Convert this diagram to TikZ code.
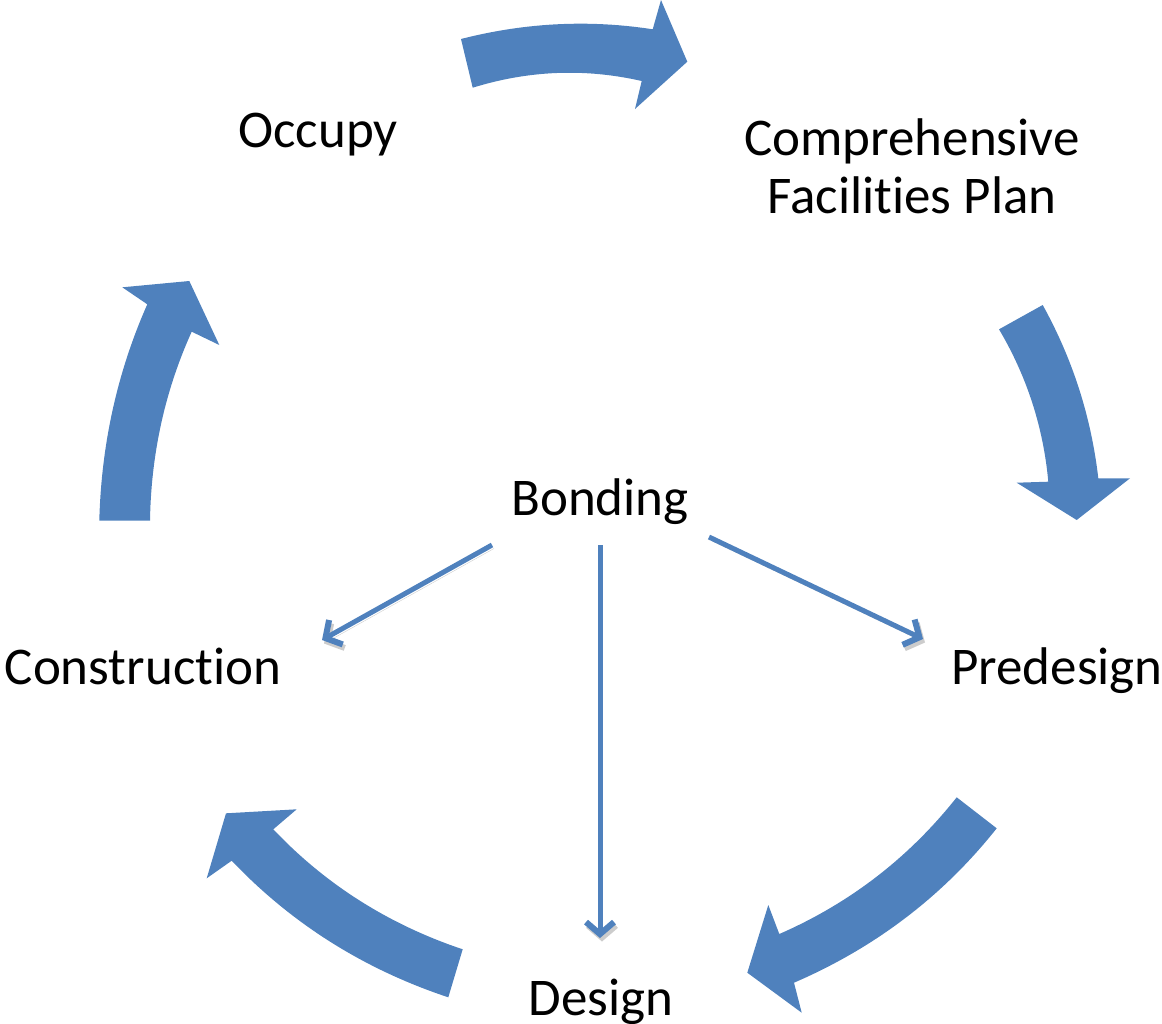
\documentclass[tikz,border=0pt]{standalone}
\usepackage{fontspec}
\setmainfont{Carlito}[Ligatures=CommonOff]
\usetikzlibrary{arrows.meta}
\definecolor{ablue}{HTML}{4F81BD}
\begin{document}
\begin{tikzpicture}[x=1pt,y=-1pt,
  lbl/.style={font=\fontsize{53}{58}\selectfont, inner sep=0pt, anchor=base},
  block/.style={fill=ablue, draw=none},
  thinarrow/.style={draw=ablue, line width=5pt,
    -{Straight Barb[length=12pt,width=28pt,line width=6pt]},
    preaction={draw=black!20, transform canvas={xshift=2pt,yshift=-3.5pt}}}
]
\useasboundingbox (0,0) rectangle (1162,1023);

% labels
\node[lbl] (occupy) at (318,147) {Occupy};
\node[lbl, align=center] (cfp) at (912,213) {Comprehensive\\Facilities Plan};
\node[lbl] (bonding) at (600,515) {Bonding};
\node[lbl] (construction) at (143,684) {Construction};
\node[lbl] (predesign) at (1057,684) {Predesign};
\node[lbl] (design) at (601,1015) {Design};

% cycle block arrows
\fill[block] (461,39) .. controls (525.1,22.6) and (589.0,19.4) .. (652.7,29.3)
  -- (661,0) -- (687.3,61.7) -- (635,109) -- (641.7,81)
  .. controls (585.1,68.1) and (528.8,70.3) .. (472.7,87.7) -- cycle;
\fill[block] (999,329.3) -- (1042.7,305)
  .. controls (1072.7,359.2) and (1091.2,416.9) .. (1098.3,478.3)
  -- (1130,478.3) -- (1076.7,520) -- (1016.7,482.7) -- (1048.3,481.7)
  .. controls (1043.3,427.2) and (1026.9,376.4) .. (999,329.3) -- cycle;
\fill[block] (996.7,828.3) -- (956.7,797.3)
  .. controls (908.9,857.7) and (849.8,903.2) .. (779.3,934)
  -- (768.3,905) -- (747.3,972.7) -- (801.7,1012.7) -- (794,982.7)
  .. controls (875.5,947.5) and (943,896) .. (996.7,828.3) -- cycle;
\fill[block] (448.3,997.3) -- (462.7,949.3)
  .. controls (388.7,924.5) and (325.6,884.5) .. (273.3,829.3)
  -- (296.7,809.3) -- (226,813.3) -- (206.7,878.3) -- (231.7,860.7)
  .. controls (291.6,923.7) and (363.8,969.2) .. (448.3,997.3) -- cycle;
\fill[block] (99.3,520.7) -- (150,520.7)
  .. controls (151.1,453.7) and (165,390.7) .. (191.7,331.7)
  -- (219.3,345) -- (189.3,281) -- (122.3,287.3) -- (147.3,304.3)
  .. controls (117.3,372) and (101.3,444.2) .. (99.3,520.7) -- cycle;

% bonding connectors
\coordinate (bL) at (492,545);
\coordinate (cE) at (322,640);
\coordinate (bM) at (600,545);
\coordinate (dE) at (600,938);
\coordinate (bR) at (709,537);
\coordinate (pE) at (923,639);
\draw[thinarrow] (bL) -- (cE);
\draw[thinarrow] (bM) -- (dE);
\draw[thinarrow] (bR) -- (pE);
\end{tikzpicture}
\end{document}
